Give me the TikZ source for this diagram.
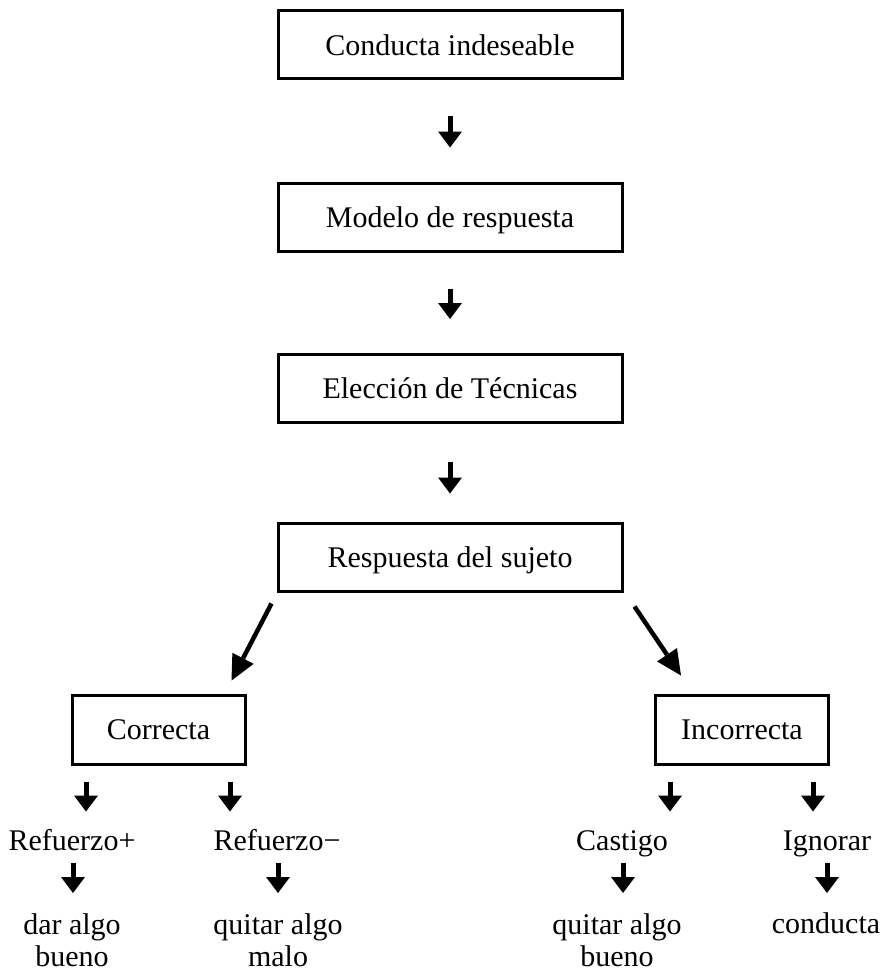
\documentclass[tikz,border=0pt]{standalone}
\usepackage{fontspec}
\setmainfont{Liberation Serif}
\usetikzlibrary{arrows.meta}
\begin{document}
\begin{tikzpicture}[x=1pt,y=-1pt,
  every node/.style={font=\fontsize{30}{32.5}\selectfont, inner sep=0pt},
  box/.style={draw, line width=3pt, text height=20.5pt, text depth=0pt},
  bigbox/.style={box, minimum width=344pt, minimum height=68pt},
  smallbox/.style={box, minimum width=173pt, minimum height=69pt},
  arr/.style={line width=5pt, -{Triangle[width=24pt,length=16pt,line width=0pt]}},
  diag/.style={line width=4.5pt, -{Triangle[width=24pt,length=25pt,line width=0pt]}},
  lbl/.style={anchor=base},
  lbltwo/.style={anchor=north, align=center}]
\useasboundingbox (0,0) rectangle (888,971);
% main chain
\node[bigbox] (b1) at (450,45) {Conducta indeseable};
\node[bigbox] (b2) at (450,217) {Modelo de respuesta};
\node[bigbox] (b3) at (450,388.5) {Elección de Técnicas};
\node[bigbox] (b4) at (450,557) {Respuesta del sujeto};
\draw[arr, shorten <=36pt, shorten >=34pt] (b1) -- (b2);
\draw[arr, shorten <=36pt, shorten >=34pt] (b2) -- (b3);
\draw[arr, shorten <=38pt, shorten >=28pt] (b3) -- (b4);
% branches
\node[smallbox] (corr) at (158.5,729.5) {Correcta};
\node[smallbox] (incorr) at (742,729.5) {Incorrecta};
\draw[diag] ([xshift=-5pt,yshift=-11pt]b4.south west) -- ([xshift=-15pt,yshift=13pt]corr.north east);
\draw[diag] ([xshift=11pt,yshift=-14pt]b4.south east) -- ([xshift=27pt,yshift=18pt]incorr.north west);
% leaves
\node[lbl] (rp) at (72,850) {Refuerzo+};
\node[lbl] (rm) at (277,850) {Refuerzo−};
\node[lbl] (cas) at (622,850) {Castigo};
\node[lbl] (ign) at (827,850) {Ignorar};
\draw[arr] ([xshift=-72.5pt,yshift=-16pt]corr.south) -- ++(0,30);
\draw[arr] ([xshift=71.5pt,yshift=-16pt]corr.south) -- ++(0,30);
\draw[arr] ([xshift=-72pt,yshift=-16pt]incorr.south) -- ++(0,30);
\draw[arr] ([xshift=71pt,yshift=-16pt]incorr.south) -- ++(0,30);
\node[lbltwo] (dab) at (72,913) {dar algo\\bueno};
\node[lbltwo] (qam) at (278,913) {quitar algo\\malo};
\node[lbltwo] (qab) at (617,913) {quitar algo\\bueno};
\node[lbl] (con) at (826,933) {conducta};
\draw[arr] ([xshift=1pt,yshift=-13pt]rp.base) -- ++(0,30);
\draw[arr] ([xshift=1pt,yshift=-13pt]rm.base) -- ++(0,30);
\draw[arr] ([xshift=1pt,yshift=-13pt]cas.base) -- ++(0,30);
\draw[arr] ([yshift=-13pt]ign.base) -- ++(0,30);
\end{tikzpicture}
\end{document}
